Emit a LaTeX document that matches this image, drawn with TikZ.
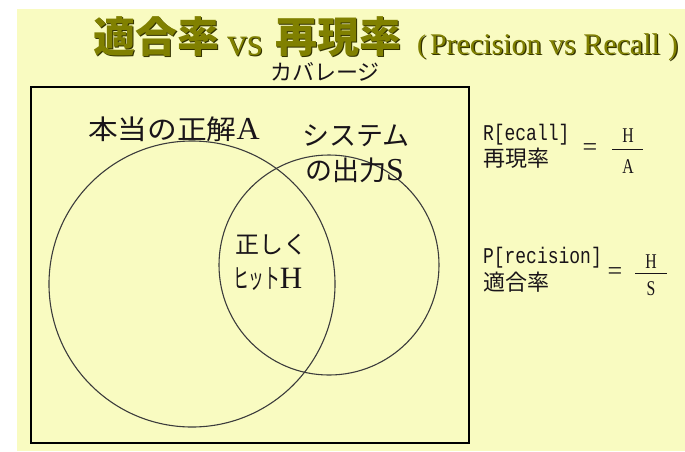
\documentclass[tikz,border=0pt]{standalone}
\usepackage{fontspec}
\setmainfont{Liberation Serif}
\setmonofont{Liberation Mono}
\newfontfamily\jp{Noto Sans CJK JP}
\definecolor{bgyellow}{RGB}{249,251,193}
\definecolor{titleolive}{RGB}{128,128,0}
\definecolor{titleshadow}{RGB}{50,50,0}
\definecolor{circlegray}{RGB}{60,60,60}
\definecolor{inkdark}{RGB}{25,20,25}
\tikzset{
  txt/.style={anchor=base west, inner sep=0pt, outer sep=0pt, text=inkdark},
  ttl/.style={anchor=base west, inner sep=0pt, outer sep=0pt, text=titleolive},
  ttlsh/.style={anchor=base west, inner sep=0pt, outer sep=0pt, text=titleshadow},
  venn/.style={draw=circlegray, line width=1.1pt},
  frame/.style={draw=black, line width=1.2pt},
  fracbar/.style={draw=inkdark, line width=1pt},
  ctr/.style={anchor=center, inner sep=0pt, outer sep=0pt, text=inkdark},
}
\newcommand{\ttsz}{\fontsize{42}{42}\selectfont}
\newcommand{\vssz}{\fontsize{40}{40}\selectfont}
\newcommand{\ltsz}{\fontsize{30}{30}\selectfont}
\begin{document}
\begin{tikzpicture}[x=1pt,y=-1pt]
\useasboundingbox (0,0) rectangle (685,451);
\fill[white] (0,0) rectangle (685,451);
\fill[bgyellow] (17,9) rectangle (685,451);
% title shadow
\node[ttlsh] (s1) at (94.3,53.3) {\jp\bfseries\ttsz 適合率};
\node[ttlsh] (s2) at (228.3,56.3) {\vssz vs};
\node[ttlsh] (s3) at (276.3,53.3) {\jp\bfseries\ttsz 再現率};
\node[ttlsh] (s4) at (418.3,54.3) {\fontsize{27}{27}\selectfont (};
\node[ttlsh] (s5) at (431.3,55.3) {\ltsz Precision vs Recall};
\node[ttlsh] (s6) at (669.3,55.3) {\ltsz )};
% title
\node[ttl] (t1) at (93,52) {\jp\bfseries\ttsz 適合率};
\node[ttl] (t2) at (227,55) {\vssz vs};
\node[ttl] (t3) at (275,52) {\jp\bfseries\ttsz 再現率};
\node[ttl] (t4) at (417,53) {\fontsize{27}{27}\selectfont (};
\node[ttl] (t5) at (430,54) {\ltsz Precision vs Recall};
\node[ttl] (t6) at (668,54) {\ltsz )};
% coverage
\node[txt] (cov) at (270,80) {\jp\fontsize{22}{22}\selectfont カバレージ};
% frame
\draw[frame] (31,87) rectangle (469,443);
% circles
\draw[venn] (192,284) circle[radius=143];
\draw[venn] (329,265) circle[radius=110];
% labels
\node[txt] (la) at (88,139) {\scalebox{1.1}[1]{\jp\fontsize{27}{27}\selectfont 本当の正解}\fontsize{32}{32}\rmfamily A};
\node[txt] (ls1) at (302,145) {\jp\fontsize{27}{27}\selectfont システム};
\node[txt] (ls2) at (305,180) {\jp\fontsize{27}{27}\selectfont の出力\fontsize{32}{32}\rmfamily S};
\node[txt] (lh1) at (235,253) {\jp\fontsize{24}{24}\selectfont 正しく};
\node[txt] (lh2) at (233,288) {\scalebox{0.58}[1]{\jp\fontsize{27}{27}\selectfont ヒット}\fontsize{31}{31}\rmfamily H};
% recall
\node[txt] (r1) at (483,140) {\scalebox{1}[1.25]{\ttfamily\fontsize{18}{18}\selectfont R[ecall]}};
\node[txt] (r2) at (483,166) {\jp\fontsize{22}{22}\selectfont 再現率};
\node[ctr] (req) at (590,150) {\fontsize{26}{26}\selectfont =};
\coordinate (rb1) at (612,149);
\coordinate (rb2) at (643,149);
\draw[fracbar] (rb1) -- (rb2);
\node[ctr] (rn) at (628,136) {\scalebox{0.75}[1]{\fontsize{21}{21}\selectfont H}};
\node[ctr] (rd) at (628,167) {\scalebox{0.75}[1]{\fontsize{21}{21}\selectfont A}};
% precision
\node[txt] (p1) at (483,263) {\scalebox{1}[1.25]{\ttfamily\fontsize{18}{18}\selectfont P[recision]}};
\node[txt] (p2) at (483,290) {\jp\fontsize{22}{22}\selectfont 適合率};
\node[ctr] (peq) at (615,274) {\fontsize{26}{26}\selectfont =};
\coordinate (pb1) at (635,273);
\coordinate (pb2) at (667,273);
\draw[fracbar] (pb1) -- (pb2);
\node[ctr] (pn) at (651,262) {\scalebox{0.75}[1]{\fontsize{21}{21}\selectfont H}};
\node[ctr] (pd) at (651,289) {\scalebox{0.75}[1]{\fontsize{21}{21}\selectfont S}};
\end{tikzpicture}
\end{document}
